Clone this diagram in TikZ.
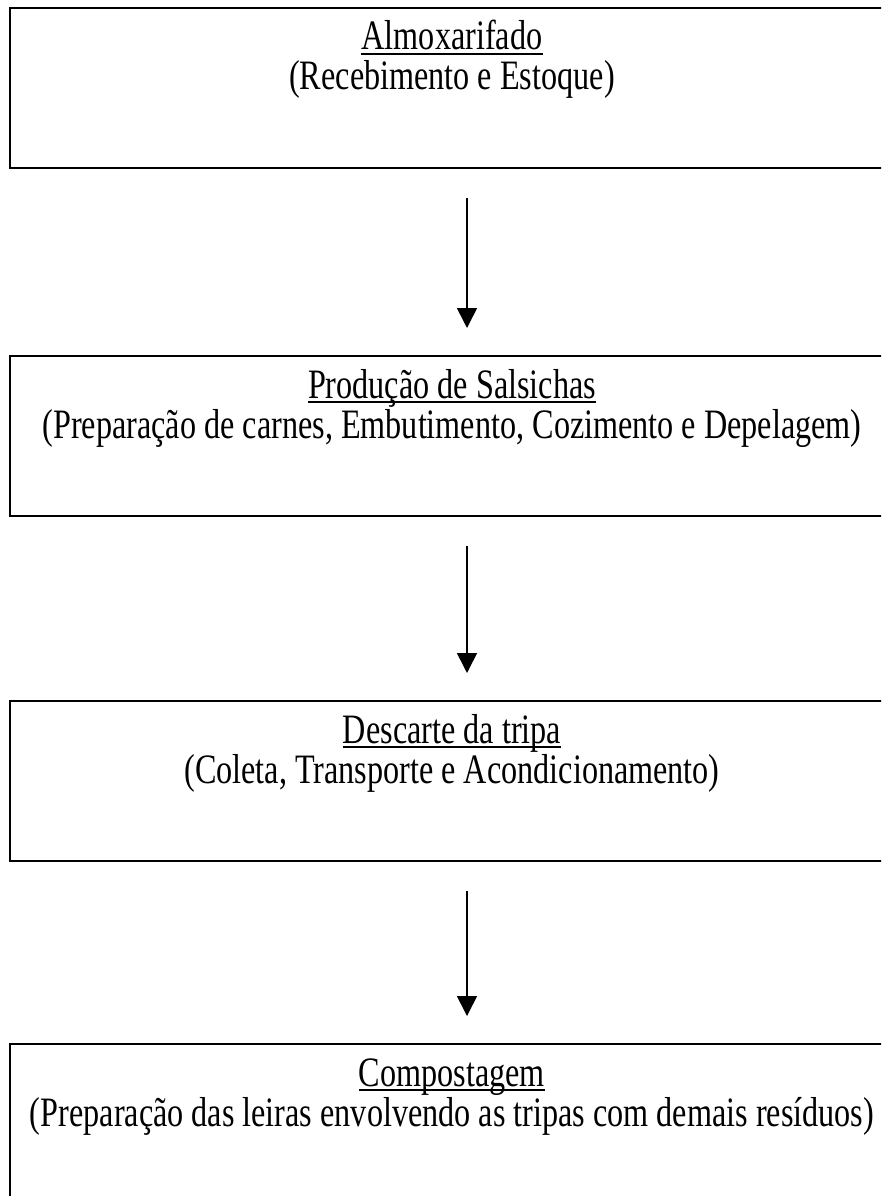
\documentclass[tikz,border=0pt]{standalone}
\usepackage{fontspec}
\setmainfont{Liberation Serif}
\usetikzlibrary{arrows.meta}

% tall, narrow setting of the stage texts
\newcommand{\tallset}[1]{\scalebox{1}[1.3]{#1}}

\begin{document}
\begin{tikzpicture}[x=1pt,y=-1pt,
  stage/.style={draw=black,line width=2pt,anchor=north west,
    minimum width=900pt,minimum height=160pt,inner sep=0pt,outer sep=0pt},
  head/.style={anchor=base,inner sep=0pt,font=\fontsize{32.2}{38}\selectfont},
  rule/.style={line width=1.5pt},
  flow/.style={line width=1.6pt,-{Triangle[width=20pt,length=20pt]},
    shorten <=30pt,shorten >=28pt}]
\useasboundingbox (0,0) rectangle (881,1196);
\clip (0,0) rectangle (881,1196);
\fill[white] (0,0) rectangle (881,1196);

% column of the arrows
\coordinate (ax) at (467,0);

% process stages
\node[stage] (b1) at (10,8) {};
\node[stage] (b2) at (10,356) {};
\node[stage] (b3) at (10,701) {};
\node[stage] (b4) at (10,1044) {};

% stage titles and descriptions
\node[head] (t1) at (452,50) {\tallset{Almoxarifado}};
\node[head] (s1) at (452,90) {\tallset{(Recebimento e Estoque)}};
\node[head] (t2) at (452,398) {\tallset{Produção de Salsichas}};
\node[head] (s2) at (452,438) {\tallset{(Preparação de carnes, Embutimento, Cozimento e Depelagem)}};
\node[head] (t3) at (452,743) {\tallset{Descarte da tripa}};
\node[head] (s3) at (452,783) {\tallset{(Coleta, Transporte e Acondicionamento)}};
\node[head] (t4) at (452,1086) {\tallset{Compostagem}};
\node[head] (s4) at (452,1126) {\tallset{(Preparação das leiras envolvendo as tripas com demais resíduos)}};

% underlines of the titles
\foreach \t in {t1,t2,t3,t4}
  \draw[rule] ([yshift=-4pt]\t.base west) -- ([yshift=-4pt]\t.base east);

% flow between stages
\draw[flow] (b1.south -| ax) -- (b2.north -| ax);
\draw[flow] (b2.south -| ax) -- (b3.north -| ax);
\draw[flow] (b3.south -| ax) -- (b4.north -| ax);
\end{tikzpicture}
\end{document}
